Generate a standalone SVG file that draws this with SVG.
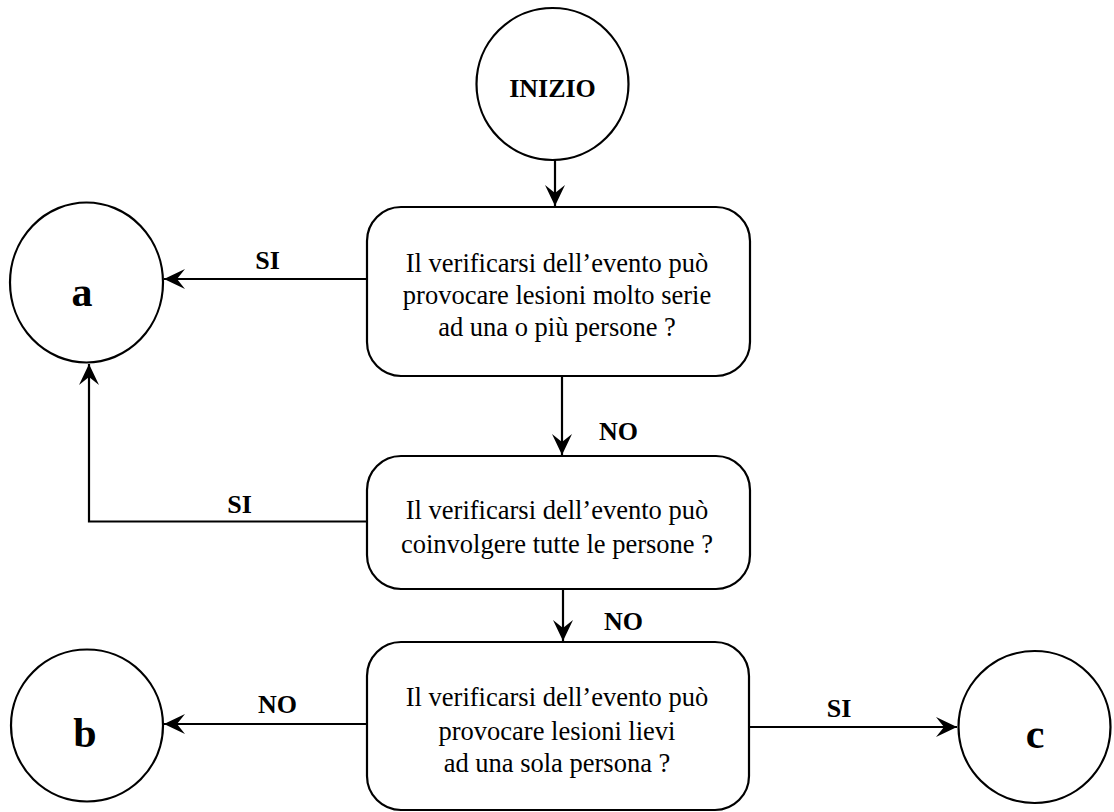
<svg xmlns="http://www.w3.org/2000/svg" width="1114" height="812" viewBox="0 0 1114 812">
<style>
.shape{fill:#fff;stroke:#000;stroke-width:2.2}
.body{font-family:"Liberation Serif","Times New Roman",serif;font-size:26.5px;fill:#000;text-anchor:middle}
.lbl{font-family:"Liberation Serif","Times New Roman",serif;font-size:26px;font-weight:bold;fill:#000;text-anchor:middle}
.big{font-family:"Liberation Serif","Times New Roman",serif;font-size:42px;font-weight:bold;fill:#000;text-anchor:middle}
.edge{fill:none;stroke:#000;stroke-width:2.2}
</style>
<defs>
<marker id="arr" markerUnits="userSpaceOnUse" markerWidth="24" markerHeight="24" viewBox="-22 -12 24 24" refX="0" refY="0" orient="auto">
<path d="M0,0 L-21,-10 L-13,0 L-21,10 Z" fill="#000"/>
</marker>
</defs>
<rect width="1114" height="812" fill="#fff"/>
<g id="connectors">
<path class="edge" d="M555,160 V206" marker-end="url(#arr)"/>
<path class="edge" d="M368,279 H164" marker-end="url(#arr)"/>
<path class="edge" d="M562,376 V455" marker-end="url(#arr)"/>
<path class="edge" d="M368,521.5 H89 V364" marker-end="url(#arr)"/>
<path class="edge" d="M563,589 V641" marker-end="url(#arr)"/>
<path class="edge" d="M367,724 H164" marker-end="url(#arr)"/>
<path class="edge" d="M749,727 H957" marker-end="url(#arr)"/>
<text class="lbl" x="267.5" y="269">SI</text>
<text class="lbl" x="618.5" y="440">NO</text>
<text class="lbl" x="239.5" y="513">SI</text>
<text class="lbl" x="623.5" y="630">NO</text>
<text class="lbl" x="277.5" y="713">NO</text>
<text class="lbl" x="839" y="717">SI</text>
</g>
<g id="inizio">
<circle class="shape" cx="552.5" cy="84" r="76"/>
<text class="lbl" x="552.5" y="97">INIZIO</text>
</g>
<g id="q1">
<rect class="shape" x="367" y="207" width="383" height="169" rx="34" ry="34"/>
<text class="body" x="557" y="272">Il verificarsi dell’evento può</text>
<text class="body" x="557" y="304">provocare lesioni molto serie</text>
<text class="body" x="557" y="336">ad una o più persone ?</text>
</g>
<g id="q2">
<rect class="shape" x="367" y="456" width="383" height="133" rx="34" ry="34"/>
<text class="body" x="557" y="518.5">Il verificarsi dell’evento può</text>
<text class="body" x="557" y="552.5">coinvolgere tutte le persone ?</text>
</g>
<g id="q3">
<rect class="shape" x="367" y="642" width="382" height="168" rx="34" ry="34"/>
<text class="body" x="557" y="706">Il verificarsi dell’evento può</text>
<text class="body" x="557" y="740">provocare lesioni lievi</text>
<text class="body" x="557" y="772">ad una sola persona ?</text>
</g>
<g id="a">
<ellipse class="shape" cx="86.5" cy="282.5" rx="76.5" ry="80"/>
<text class="big" x="82" y="306">a</text>
</g>
<g id="b">
<circle class="shape" cx="87" cy="725.5" r="76"/>
<text class="big" x="85" y="747">b</text>
</g>
<g id="c">
<circle class="shape" cx="1034.5" cy="727" r="76"/>
<text class="big" x="1035" y="748">c</text>
</g>
</svg>
